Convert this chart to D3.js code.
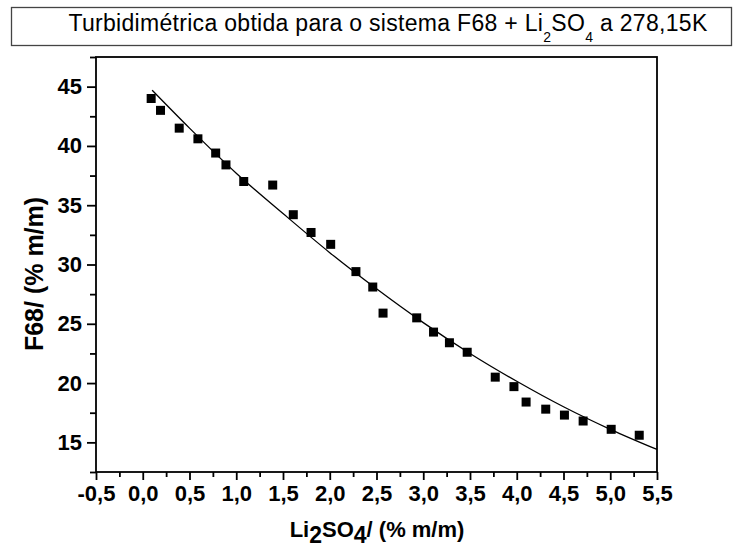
<!DOCTYPE html>
<html>
<head>
<meta charset="utf-8">
<script src="https://cdn.jsdelivr.net/npm/d3@7"></script>
<style>
  body { margin: 0; background: #fff; }
  svg text { font-family: "Liberation Sans", Arial, sans-serif; fill: #000; }
</style>
</head>
<body>
<div id="chart"></div>
<script>
// measured points (Li2SO4 %, F68 %)
const li2so4 = [0.09, 0.19, 0.39, 0.59, 0.78, 0.89, 1.08, 1.39, 1.61, 1.80, 2.01, 2.28, 2.46,
    2.57, 2.93, 3.11, 3.28, 3.47, 3.77, 3.97, 4.10, 4.31, 4.51, 4.71, 5.01, 5.31];
const f68 = [44.0, 43.0, 41.5, 40.6, 39.4, 38.4, 37.0, 36.7, 34.2, 32.7, 31.7, 29.4, 28.1,
    25.9, 25.5, 24.3, 23.4, 22.6, 20.5, 19.7, 18.4, 17.8, 17.3, 16.8, 16.1, 15.6];

// fitted curve
const fitX = [0.1, 0.5, 1.0, 1.5, 2.0, 2.5, 3.0, 3.5, 4.0, 4.5, 5.0, 5.5];
const fitY = [44.7, 41.5, 37.7, 34.3, 31.0, 27.95, 25.1, 22.5, 20.15, 18.0, 16.1, 14.4];

const xTicks = [-0.5, 0, 0.5, 1, 1.5, 2, 2.5, 3, 3.5, 4, 4.5, 5, 5.5];
const xMinor = [-0.25, 0.25, 0.75, 1.25, 1.75, 2.25, 2.75, 3.25, 3.75, 4.25, 4.75, 5.25];
const yTicks = [15, 20, 25, 30, 35, 40, 45];
const yMinor = [12.5, 17.5, 22.5, 27.5, 32.5, 37.5, 42.5, 47.5];

const W = 736, H = 554;
const plotL = 96, plotR = 657, plotT = 57, plotB = 472;

const ptBr = d3.formatLocale({decimal: ',', thousands: '.', grouping: [3], currency: ['', ''], minus: '-'});
const fmt = ptBr.format('.1f');

const xScale = d3.scaleLinear().domain([-0.5, 5.5]).range([plotL, plotR]);
const yScale = d3.scaleLinear().domain([12.5, 47.5]).range([plotB, plotT]);

const svg = d3.select('#chart').append('svg')
    .attr('width', W)
    .attr('height', H);

// title box
svg.append('rect')
    .attr('x', 11.5).attr('y', 7.5)
    .attr('width', 720).attr('height', 38)
    .attr('fill', '#fff')
    .attr('stroke', '#444')
    .attr('stroke-width', 1.3);

const title = svg.append('text')
    .attr('x', 388).attr('y', 31)
    .attr('text-anchor', 'middle')
    .style('font-size', '23px')
    .style('letter-spacing', '0.3px');
title.append('tspan').text('Turbidimétrica obtida para o sistema F68 + Li');
title.append('tspan').attr('dy', 11).style('font-size', '14px').text('2');
title.append('tspan').attr('dy', -11).text('SO');
title.append('tspan').attr('dy', 11).style('font-size', '14px').text('4');
title.append('tspan').attr('dy', -11).text(' a 278,15K');

// axes
const xAxis = d3.axisBottom(xScale).tickValues(xTicks).tickFormat(fmt).tickSize(8).tickPadding(5);
const xAxisMinor = d3.axisBottom(xScale).tickValues(xMinor).tickFormat('').tickSize(5);
const yAxis = d3.axisLeft(yScale).tickValues(yTicks).tickFormat(d3.format('d')).tickSize(9).tickPadding(5);
const yAxisMinor = d3.axisLeft(yScale).tickValues(yMinor).tickFormat('').tickSize(6);

function styleAxis(g) {
    g.select('.domain').remove();
    g.selectAll('line').attr('stroke', '#000').attr('stroke-width', 1.8);
    g.selectAll('text')
        .style('font-size', '22px')
        .style('font-weight', 'bold')
        .style('font-family', '"Liberation Sans", Arial, sans-serif');
}

svg.append('g').attr('transform', `translate(0,${plotB})`).call(xAxis).call(styleAxis);
svg.append('g').attr('transform', `translate(0,${plotB})`).call(xAxisMinor).call(styleAxis);
svg.append('g').attr('transform', `translate(${plotL},0)`).call(yAxis).call(styleAxis);
svg.append('g').attr('transform', `translate(${plotL},0)`).call(yAxisMinor).call(styleAxis);

// frame
svg.append('rect')
    .attr('x', plotL).attr('y', plotT)
    .attr('width', plotR - plotL).attr('height', plotB - plotT)
    .attr('fill', 'none')
    .attr('stroke', '#000')
    .attr('stroke-width', 1.8);

// fit line
const fit = fitX.map((x, i) => [x, fitY[i]]);
svg.append('path')
    .datum(fit)
    .attr('fill', 'none')
    .attr('stroke', '#000')
    .attr('stroke-width', 1.3)
    .attr('d', d3.line().x(d => xScale(d[0])).y(d => yScale(d[1])).curve(d3.curveMonotoneX));

// points
const pts = li2so4.map((x, i) => ({x: x, y: f68[i]}));
const sq = 9;
svg.selectAll('.dot')
    .data(pts)
    .enter().append('rect')
    .attr('class', 'dot')
    .attr('x', d => xScale(d.x) - sq / 2)
    .attr('y', d => yScale(d.y) - sq / 2)
    .attr('width', sq)
    .attr('height', sq)
    .attr('fill', '#000');

// axis titles
const xl = svg.append('text')
    .attr('x', 377).attr('y', 537)
    .attr('text-anchor', 'middle')
    .style('font-size', '22px')
    .style('font-weight', 'bold');
xl.append('tspan').text('Li');
xl.append('tspan').attr('dy', 6).style('font-size', '23px').text('2');
xl.append('tspan').attr('dy', -6).text('SO');
xl.append('tspan').attr('dy', 6).style('font-size', '23px').text('4');
xl.append('tspan').attr('dy', -6).text('/ (% m/m)');

svg.append('text')
    .attr('transform', 'translate(43,274) rotate(-90)')
    .attr('text-anchor', 'middle')
    .style('font-size', '25px')
    .style('font-weight', 'bold')
    .text('F68/ (% m/m)');
</script>
</body>
</html>
